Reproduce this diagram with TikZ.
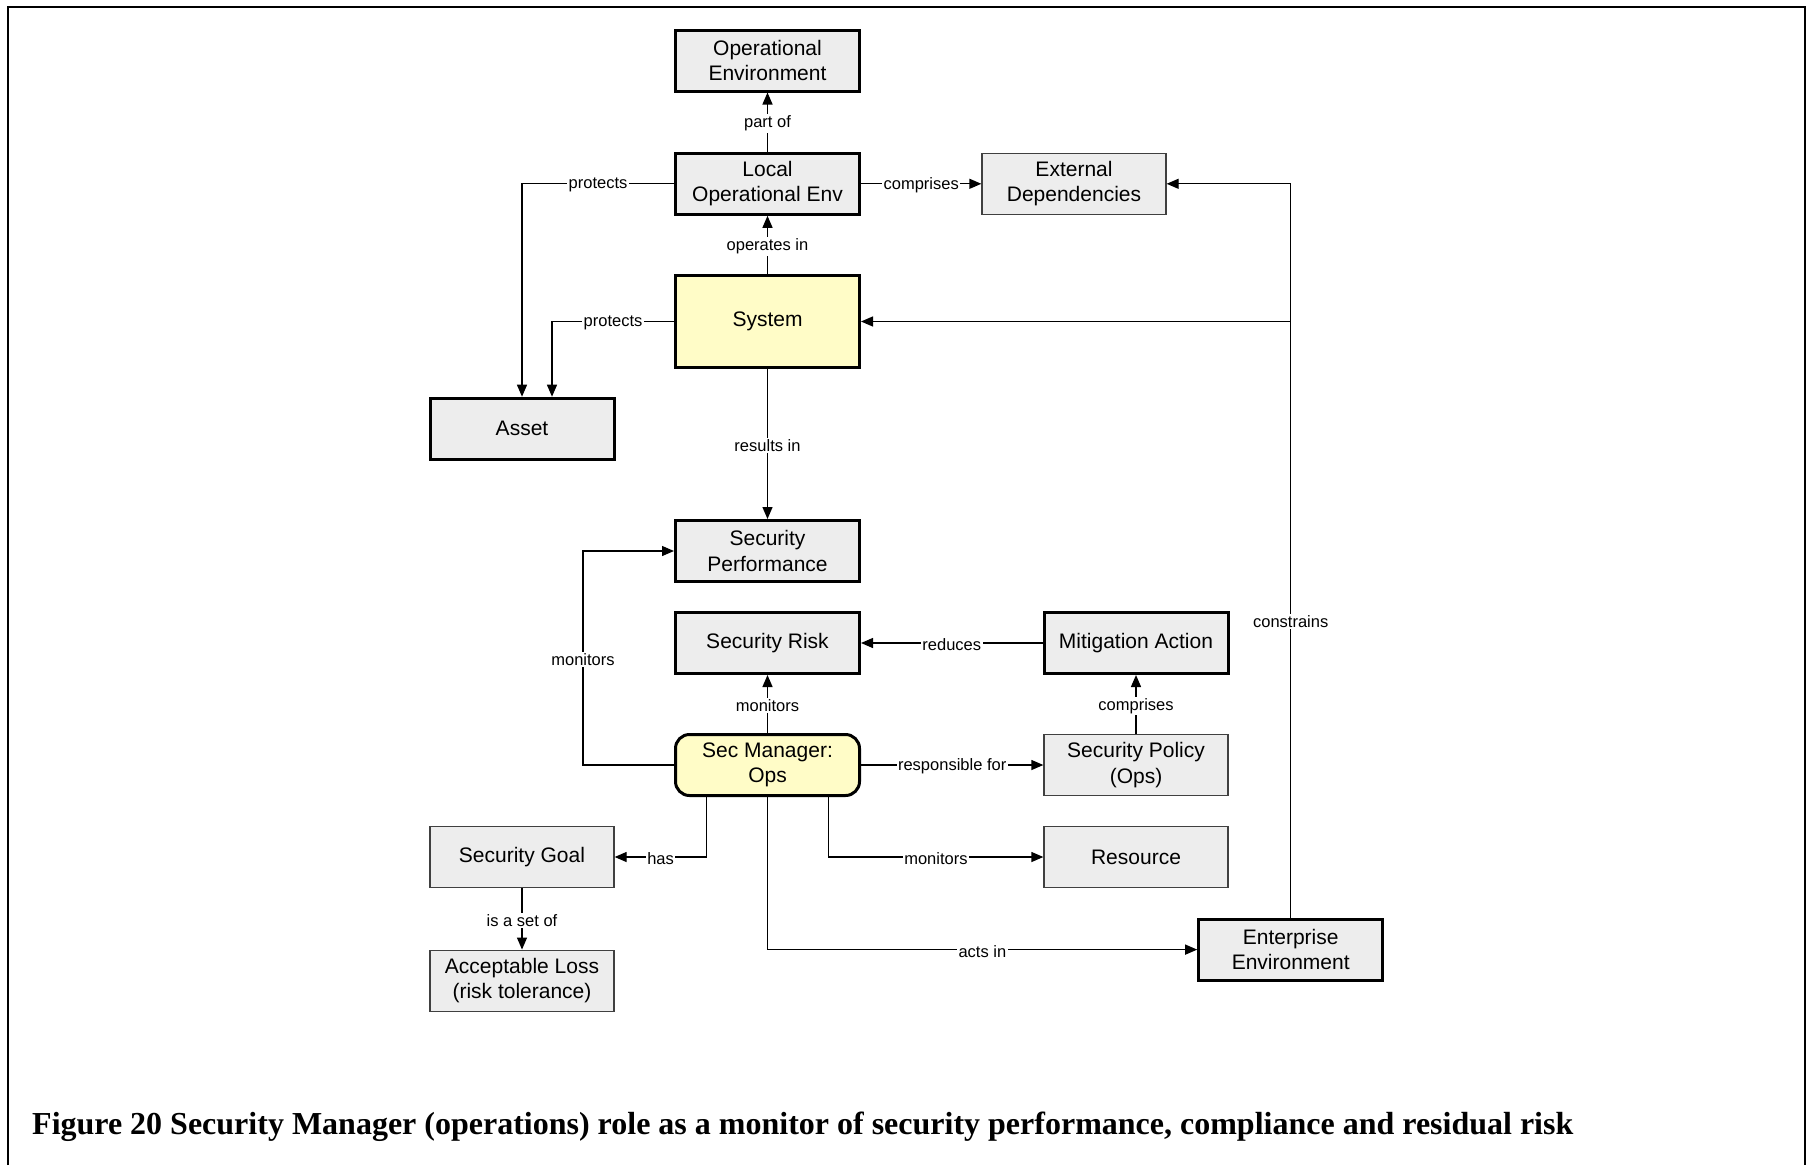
\documentclass[tikz,border=0pt]{standalone}
\usepackage{fontspec}
\setmainfont{Liberation Serif}
\setsansfont{Liberation Sans}
\usetikzlibrary{arrows.meta}

\tikzset{
  box/.style={draw=black, fill=gray!14, minimum width=184pt, minimum height=61pt,
    align=center, inner sep=2pt, font=\sffamily\fontsize{21}{25.5}\selectfont},
  heavy/.style={box, line width=3pt},
  light/.style={box, draw=black!75, line width=1.3pt},
  actor/.style={heavy, fill=yellow!22},
  link/.style={line width=1.3pt, -{Triangle[length=12pt,width=10pt]}},
  lbl/.style={fill=white, inner sep=1.5pt, yshift=-1.5pt,
    font=\sffamily\fontsize{16.5}{19}\selectfont},
}

\begin{document}
\begin{tikzpicture}[x=1pt, y=-1pt]
\useasboundingbox (0,0) rectangle (1807,1165);

% frame, open at the bottom
\draw[line width=2.2pt] (8,1165) -- (8,7) -- (1805,7) -- (1805,1165);

% nodes
\node[heavy] (openv) at (767.5,60.5) {Operational\\Environment};
\node[heavy] (local) at (767.5,183.8) {Local\\Operational Env};
\node[light] (ext)   at (1074,183.8) {External\\Dependencies};
\node[actor, minimum height=92pt] (sys) at (767.5,321.5) {System};
\node[heavy] (asset) at (522,428.7) {Asset};
\node[heavy] (perf)  at (767.5,551) {Security\\Performance};
\node[heavy] (risk)  at (767.5,643) {Security Risk};
\node[heavy] (mitig) at (1136,643) {Mitigation Action};
\node[actor, rounded corners=14pt] (mgr) at (767.5,765) {Sec Manager:\\Ops};
\node[light] (policy) at (1136,765) {Security Policy\\(Ops)};
\node[light] (goal)  at (522,857) {Security Goal};
\node[light] (res)   at (1136,857) {Resource};
\node[light] (loss)  at (522,980.7) {Acceptable Loss\\(risk tolerance)};
\node[heavy] (ent)   at (1290.7,949.6) {Enterprise\\Environment};

% connectors
\draw[link] (local) -- node[lbl]{part of} (openv);
\draw[link] (sys) -- node[lbl]{operates in} (local);
\draw[link] (local) -- node[lbl]{comprises} (ext);
\draw[link] (local.west) -| node[lbl, pos=0.25]{protects} (asset.north);
\draw[link] (sys.west) -| node[lbl, pos=0.25]{protects} ([xshift=30pt]asset.north);
\draw[link] (sys) -- node[lbl]{results in} (perf);
\draw[link] (mgr.west) -- ++(-91,0) |- node[lbl, pos=0.25]{monitors} (perf.west);
\draw[link] (mgr) -- node[lbl]{monitors} (risk);
\draw[link] (mitig) -- node[lbl]{reduces} (risk);
\draw[link] (policy) -- node[lbl]{comprises} (mitig);
\draw[link] (mgr) -- node[lbl]{responsible for} (policy);
\draw[link] ([xshift=-61pt]mgr.south) |- node[lbl, pos=0.75]{has} (goal.east);
\draw[link] ([xshift=61pt]mgr.south) |- node[lbl, pos=0.75]{monitors} (res.west);
\draw[link] (mgr.south) |- node[lbl, pos=0.75]{acts in} (ent.west);
\draw[link] (goal) -- node[lbl]{is a set of} (loss);
\draw[link] (ent.north) |- node[lbl, pos=0.203]{constrains} (ext.east);
\coordinate (branch) at (ent.north |- sys.east);
\draw[link] (branch) -- (sys.east);

% caption
\node[anchor=base west, inner sep=0pt, font=\rmfamily\bfseries\fontsize{32}{38}\selectfont]
  (caption) at (32,1134) {Figure 20 Security Manager (operations) role as a monitor of security performance, compliance and residual risk};
\end{tikzpicture}
\end{document}
